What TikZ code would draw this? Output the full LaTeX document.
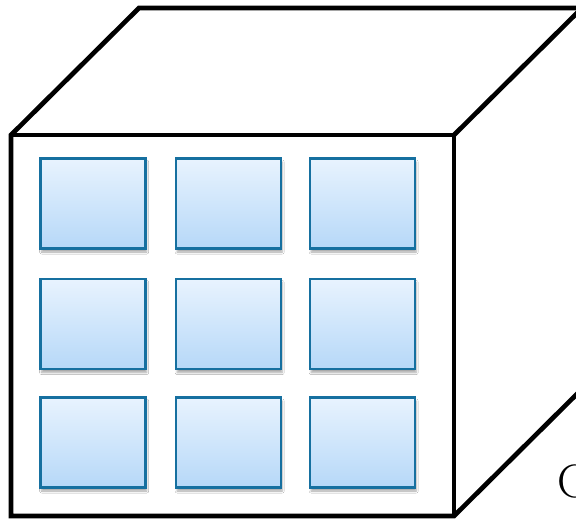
\documentclass[tikz,border=0pt]{standalone}
\usepackage{tikz}
\usetikzlibrary{shadows.blur}

\definecolor{cellline}{RGB}{22,112,160}
\definecolor{celltop}{RGB}{232,243,254}
\definecolor{cellbot}{RGB}{182,216,248}

\begin{document}
\begin{tikzpicture}[
  x=0.03cm, y=-0.03cm,
  edge/.style={draw=black, line width=4pt, line join=miter},
  cell/.style={draw=cellline, line width=2.2pt, top color=celltop, bottom color=cellbot,
    minimum width=3.15cm, minimum height=2.7cm, inner sep=0pt,
    blur shadow={shadow xshift=1pt, shadow yshift=-3pt, shadow blur steps=6, shadow opacity=35}},
  lbl/.style={font=\fontsize{40}{48}\selectfont, inner sep=0pt, anchor=west}
]
\useasboundingbox (0,0) rectangle (576,519);
\clip (0,0) rectangle (576,519);

\coordinate (ftl) at (11,135);
\coordinate (ftr) at (454,135);
\coordinate (fbr) at (454,516);
\coordinate (fbl) at (11,516);
\coordinate (btl) at (139,8);
\coordinate (btr) at (582,8);
\coordinate (bbr) at (582,389);

\draw[edge, fill=white] (ftl) -- (btl) -- (btr) -- (bbr) -- (fbr) -- (fbl) -- cycle;
\draw[edge] (ftl) -- (ftr) -- (fbr);
\draw[edge] (ftr) -- (btr);

\foreach \r/\y in {1/203.5, 2/324, 3/442.5}
  \foreach \c/\x in {1/93, 2/228.5, 3/362.5}
    \node[cell] (cell\r\c) at (\x,\y) {};

\node[lbl] (cap) at (557,481) {C};

\end{tikzpicture}
\end{document}
